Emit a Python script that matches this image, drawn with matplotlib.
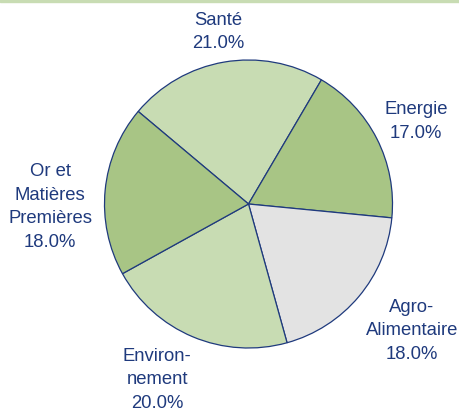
import numpy as np
import matplotlib
matplotlib.use('Agg')
from matplotlib import pyplot as plt
from matplotlib.patches import Rectangle

labels = ['Santé', 'Energie', 'Agro-\nAlimentaire', 'Environ-\nnement', 'Or et\nMatières\nPremières']
values = [21.0, 17.0, 18.0, 20.0, 18.0]
colors = ['#c8dcb3', '#a8c585', '#e3e3e3', '#c8dcb3', '#a8c585']

# label centres, in pie radii from the centre
label_xy = [(-0.212, 1.201), (1.163, 0.580), (1.135, -0.875), (-0.635, -1.215), (-1.378, -0.014)]

navy = '#1f3a7d'
plt.rcParams['font.family'] = ['Liberation Sans', 'DejaVu Sans']

fig = plt.figure(figsize=(4.59, 4.14), dpi=100)
ax = fig.add_axes([0, 0, 1, 1])

wedges, _ = ax.pie(values, colors=colors, startangle=140, counterclock=False,
                   wedgeprops=dict(edgecolor=navy, linewidth=0.9))

# pixel layout: radius 144px, centre at (248.5, 205) from top-left
r = 144.0
ax.set_xlim(-248.5 / r, (459 - 248.5) / r)
ax.set_ylim(-209 / r, (414 - 209) / r)
ax.set_aspect('equal')
ax.axis('off')

for lab, v, (x, y) in zip(labels, values, label_xy):
    ax.text(x, y, '%s\n%.1f%%' % (lab, v),
            ha='center', va='center', color=navy, fontsize=13.3, linespacing=1.5)

fig.patches.append(Rectangle((0, 411 / 414), 1, 3 / 414, transform=fig.transFigure,
                             color='#c8dcb3', zorder=0))

fig.savefig('out.png', dpi=100)
